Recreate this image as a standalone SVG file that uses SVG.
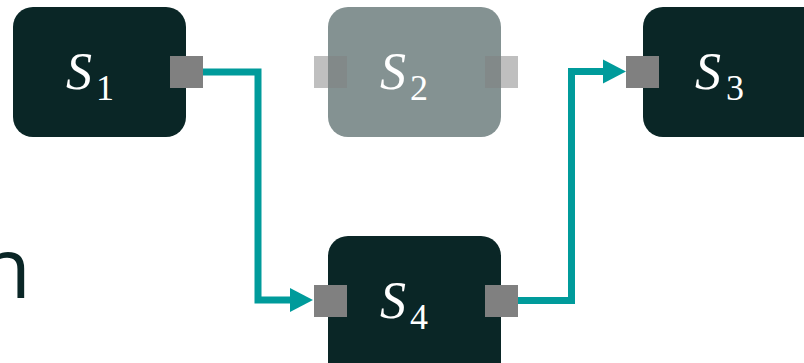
<svg xmlns="http://www.w3.org/2000/svg" width="804" height="363" viewBox="0 0 804 363">
<style>
.box{fill:#0a2626}
.port{fill:#808080}
.lbl{fill:#ffffff;font-family:"Liberation Serif",serif}
.s{font-style:italic;font-size:52px}
.sub{font-size:36px}
.conn{fill:none;stroke:#009b9b;stroke-width:7}
.faded{opacity:0.5}
</style>
<defs>
<marker id="arr" markerUnits="userSpaceOnUse" markerWidth="23" markerHeight="24" refX="3" refY="12" orient="auto" overflow="visible">
<path d="M0,0 L23,12 L0,24 Z" fill="#009b9b"/>
</marker>
</defs>
<rect width="804" height="363" fill="#ffffff"/>
<text x="31" y="298" text-anchor="end" font-family="Open Sans, sans-serif" font-weight="400" font-size="84" fill="#0a2626">n</text>
<g id="connectors">
<path class="conn" d="M203,72 H258 V300 H293" marker-end="url(#arr)"/>
<path class="conn" d="M518,300.5 H571.5 V71.5 H606" marker-end="url(#arr)"/>
</g>
<g id="S1">
<rect class="box" x="13" y="7" width="173" height="130" rx="20"/>
<rect class="port" x="170" y="56" width="33" height="32"/>
<text class="lbl"><tspan class="s" x="66" y="89">S</tspan><tspan class="sub" x="96" y="100">1</tspan></text>
</g>
<g id="S2">
<rect class="box faded" x="328" y="7" width="173" height="130" rx="20"/>
<rect class="port faded" x="314" y="56" width="33" height="32"/>
<rect class="port faded" x="485" y="56" width="33" height="32"/>
<text class="lbl"><tspan class="s" x="380" y="89">S</tspan><tspan class="sub" x="410" y="100">2</tspan></text>
</g>
<g id="S3">
<rect class="box" x="643" y="7" width="190" height="130" rx="20"/>
<rect class="port" x="626" y="56" width="33" height="32"/>
<text class="lbl"><tspan class="s" x="695" y="89">S</tspan><tspan class="sub" x="726" y="100">3</tspan></text>
</g>
<g id="S4">
<rect class="box" x="328" y="236" width="173" height="150" rx="20"/>
<rect class="port" x="314" y="285" width="33" height="32"/>
<rect class="port" x="485" y="285" width="33" height="32"/>
<text class="lbl"><tspan class="s" x="380" y="318">S</tspan><tspan class="sub" x="410" y="329">4</tspan></text>
</g>
</svg>
